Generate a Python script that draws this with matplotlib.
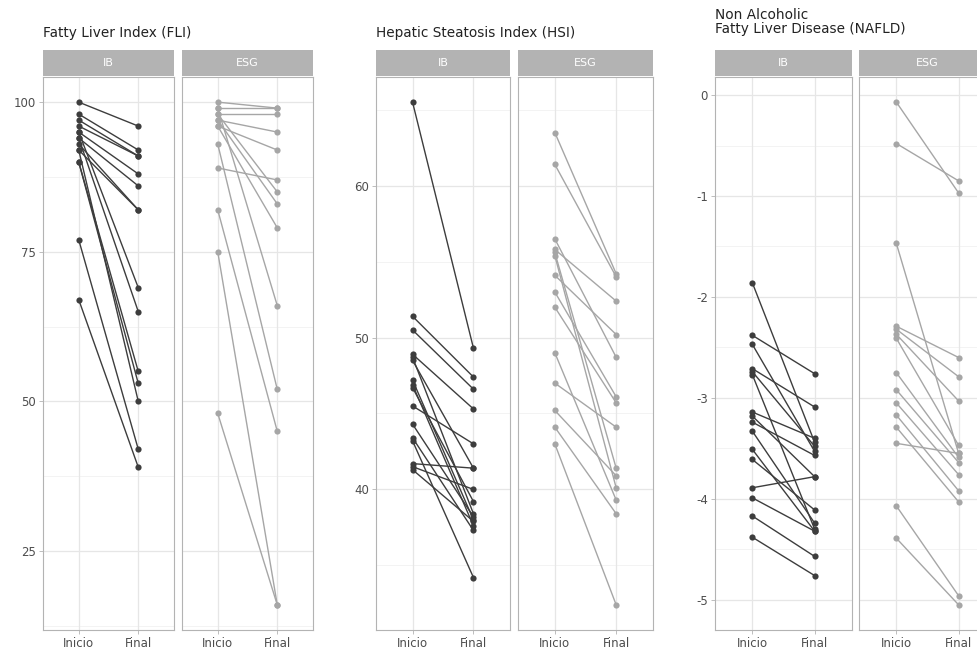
import matplotlib.pyplot as plt
import numpy as np

W, H = 978, 651

times = ["Inicio", "Final"]
groups = ["IB", "ESG"]
titles = ["Fatty Liver Index (FLI)", "Hepatic Steatosis Index (HSI)",
          "Non Alcoholic\nFatty Liver Disease (NAFLD)"]

# FLI
fli_ib_inicio = [100, 98, 97, 96, 95, 94, 93, 92, 95, 94, 90, 90, 92, 77, 67]
fli_ib_final = [96, 92, 91, 91, 88, 86, 82, 82, 69, 65, 55, 53, 50, 42, 39]
fli_esg_inicio = [100, 99, 98, 97, 96, 89, 98, 97, 96, 99, 93, 82, 75, 48]
fli_esg_final = [99, 99, 98, 95, 92, 87, 85, 83, 79, 66, 52, 45, 16, 16]

# HSI
hsi_ib_inicio = [65.5, 51.4, 50.5, 48.9, 48.7, 48.5, 47.2, 46.9, 46.7, 45.5,
                 44.3, 43.4, 43.2, 41.7, 41.5, 41.3]
hsi_ib_final = [49.3, 47.4, 46.6, 45.3, 38.4, 41.4, 38.0, 37.6, 39.2, 43.0,
                38.2, 37.3, 34.2, 41.4, 40.0, 37.9]
hsi_esg_inicio = [63.5, 61.4, 56.5, 55.8, 55.6, 55.4, 54.1, 53.0, 52.0, 49.0,
                  47.0, 45.2, 44.1, 43.0]
hsi_esg_final = [54.2, 54.0, 48.7, 52.4, 41.4, 40.1, 50.2, 46.1, 45.7, 39.3,
                 44.1, 40.9, 38.4, 32.4]

# NAFLD
nafld_ib_inicio = [-1.86, -2.38, -2.47, -2.71, -2.74, -2.77, -3.14, -3.18,
                   -3.24, -3.33, -3.51, -3.61, -3.89, -3.99, -4.17, -4.38]
nafld_ib_final = [-3.44, -2.76, -3.53, -3.09, -3.48, -4.30, -3.40, -3.78,
                  -3.57, -4.24, -4.32, -4.11, -3.78, -4.32, -4.57, -4.76]
nafld_esg_inicio = [-0.07, -0.48, -1.47, -2.29, -2.32, -2.37, -2.41, -2.75,
                    -2.92, -3.05, -3.17, -3.29, -3.45, -4.07, -4.39]
nafld_esg_final = [-0.97, -0.85, -3.55, -2.60, -2.79, -3.03, -3.47, -3.59,
                   -3.64, -3.76, -3.92, -4.03, -3.55, -4.96, -5.05]

panels = [
    ((fli_ib_inicio, fli_ib_final), (fli_esg_inicio, fli_esg_final)),
    ((hsi_ib_inicio, hsi_ib_final), (hsi_esg_inicio, hsi_esg_final)),
    ((nafld_ib_inicio, nafld_ib_final), (nafld_esg_inicio, nafld_esg_final)),
]
yticks = [[25, 50, 75, 100], [40, 50, 60], [0, -1, -2, -3, -4, -5]]
ytick_labels = [["25", "50", "75", "100"], ["40", "50", "60"],
                ["0", "-1", "-2", "-3", "-4", "-5"]]

# pixel layout: (left IB, right IB, left ESG, right ESG)
xpos = [(43, 174, 182, 313), (376, 510, 518, 653), (715, 852, 859, 996)]
strip_top, strip_bot, panel_top, panel_bot = 50, 76, 77, 630
colors = ["#3d3d3d", "#a6a6a6"]
border = "#b3b3b3"
grid = "#e6e6e6"
grid_minor = "#efefef"

fig = plt.figure(figsize=(W / 100, H / 100), dpi=100)


def fr(x0, x1, y0, y1):
    return [x0 / W, 1 - y1 / H, (x1 - x0) / W, (y1 - y0) / H]


for p, (pair, pos) in enumerate(zip(panels, xpos)):
    allv = np.concatenate([np.array(v, dtype=float) for g in pair for v in g])
    lo, hi = allv.min(), allv.max()
    pad = (hi - lo) * 0.05
    ylim = (lo - pad, hi + pad)
    major = sorted(yticks[p])
    step = major[1] - major[0]
    minor = [major[0] - step / 2] + [t + step / 2 for t in major]
    for g in range(2):
        x0, x1 = pos[2 * g], pos[2 * g + 1]
        ax = fig.add_axes(fr(x0, x1, panel_top, panel_bot))
        ax.set_xlim(0.4, 2.6)
        ax.set_ylim(*ylim)
        for t in minor:
            ax.axhline(t, color=grid_minor, lw=0.5, zorder=0)
        for t in major:
            ax.axhline(t, color=grid, lw=0.9, zorder=0)
        for t in (1, 2):
            ax.axvline(t, color=grid, lw=0.9, zorder=0)
        ini, fin = pair[g]
        for a, b in zip(ini, fin):
            ax.plot([1, 2], [a, b], color=colors[g], lw=1.0, zorder=2)
        ax.scatter([1] * len(ini) + [2] * len(fin), list(ini) + list(fin),
                   s=20, color=colors[g], zorder=3, linewidths=0)
        ax.set_xticks([1, 2])
        ax.set_xticklabels(times, fontsize=8.5, color="#4d4d4d")
        ax.tick_params(axis="both", length=3, color=border, width=0.6, pad=2)
        if g == 0:
            ax.set_yticks(yticks[p])
            ax.set_yticklabels(ytick_labels[p], fontsize=8.5, color="#4d4d4d")
        else:
            ax.set_yticks([])
        for s in ax.spines.values():
            s.set_color(border)
            s.set_linewidth(0.8)
        # strip
        sax = fig.add_axes(fr(x0, x1, strip_top, strip_bot))
        sax.set_facecolor(border)
        sax.set_xticks([])
        sax.set_yticks([])
        for s in sax.spines.values():
            s.set_visible(False)
        sax.text(0.5, 0.5, groups[g], color="white", fontsize=8,
                 ha="center", va="center", transform=sax.transAxes)
    if p < 2:
        fig.text(pos[0] / W, 1 - 33 / H, titles[p], fontsize=9.8, color="#222222",
                 ha="left", va="center")
    else:
        fig.text(pos[0] / W, 1 - 22 / H, titles[p], fontsize=9.8, color="#222222",
                 ha="left", va="center", linespacing=1.05)

fig.savefig("out.png", dpi=100)
